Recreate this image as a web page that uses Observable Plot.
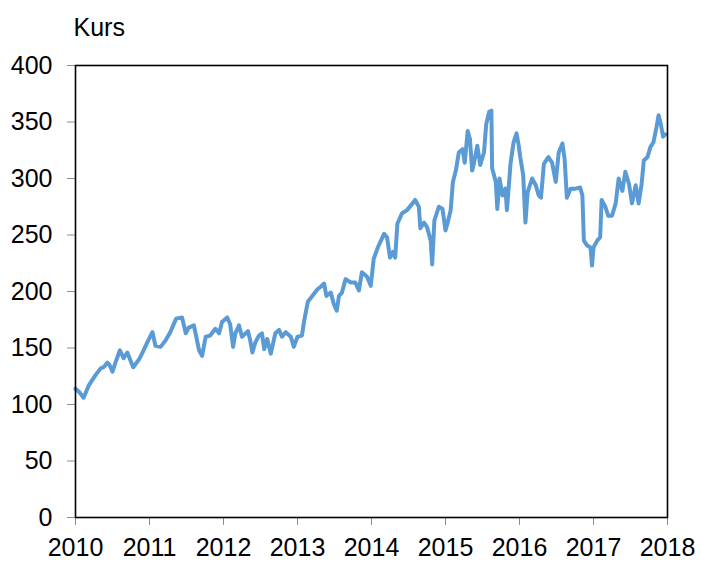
<!DOCTYPE html>
<html>
<head>
<meta charset="utf-8">
<script src="https://cdn.jsdelivr.net/npm/d3@7"></script>
<script src="https://cdn.jsdelivr.net/npm/@observablehq/plot@0.6"></script>
<style>
  html, body { margin: 0; padding: 0; background: #fff; }
</style>
</head>
<body>
<div id="chart"></div>
<script>
const title = "Kurs";
const yearTicks = [2010, 2011, 2012, 2013, 2014, 2015, 2016, 2017, 2018];
const valueTicks = [0, 50, 100, 150, 200, 250, 300, 350, 400];

// time as decimal years
const t = [
  2010.00, 2010.05, 2010.11, 2010.18, 2010.27, 2010.34, 2010.38, 2010.43, 2010.46, 2010.50,
  2010.54, 2010.60, 2010.65, 2010.70, 2010.78, 2010.86, 2010.92, 2010.97, 2011.04, 2011.08,
  2011.15, 2011.22, 2011.28, 2011.36, 2011.44, 2011.49, 2011.53, 2011.60, 2011.67, 2011.71,
  2011.76, 2011.82, 2011.89, 2011.94, 2011.98, 2012.05, 2012.09, 2012.13, 2012.16, 2012.21,
  2012.25, 2012.30, 2012.33, 2012.36, 2012.39, 2012.43, 2012.48, 2012.52, 2012.55, 2012.59,
  2012.64, 2012.70, 2012.75, 2012.79, 2012.84, 2012.91, 2012.95, 2013.00, 2013.06, 2013.09,
  2013.14, 2013.20, 2013.27, 2013.31, 2013.36, 2013.39, 2013.45, 2013.49, 2013.53, 2013.56,
  2013.60, 2013.65, 2013.72, 2013.78, 2013.83, 2013.87, 2013.94, 2013.99, 2014.03, 2014.08,
  2014.12, 2014.17, 2014.21, 2014.25, 2014.29, 2014.32, 2014.35, 2014.41, 2014.48, 2014.53,
  2014.59, 2014.64, 2014.66, 2014.71, 2014.75, 2014.80, 2014.82, 2014.85, 2014.91, 2014.96,
  2015.00, 2015.03, 2015.07, 2015.10, 2015.14, 2015.18, 2015.23, 2015.26, 2015.30, 2015.33,
  2015.36, 2015.38, 2015.43, 2015.47, 2015.52, 2015.55, 2015.59, 2015.62, 2015.63, 2015.68,
  2015.70, 2015.73, 2015.77, 2015.81, 2015.83, 2015.88, 2015.92, 2015.96, 2015.99, 2016.01,
  2016.05, 2016.08, 2016.11, 2016.17, 2016.22, 2016.26, 2016.29, 2016.33, 2016.39, 2016.44,
  2016.49, 2016.53, 2016.58, 2016.61, 2016.64, 2016.69, 2016.76, 2016.82, 2016.85, 2016.87,
  2016.91, 2016.96, 2016.98, 2017.00, 2017.05, 2017.09, 2017.11, 2017.16, 2017.20, 2017.25,
  2017.30, 2017.34, 2017.39, 2017.43, 2017.48, 2017.52, 2017.57, 2017.61, 2017.65, 2017.68,
  2017.73, 2017.77, 2017.81, 2017.85, 2017.88, 2017.91, 2017.94, 2017.97
];

const kurs = [
  114, 111, 106, 117, 126, 132, 133, 137, 135, 129,
  137, 148, 141, 146, 133, 140, 148, 155, 164, 152,
  151, 157, 164, 176, 177, 163, 168, 170, 148, 143,
  160, 161, 167, 163, 173, 177, 171, 151, 163, 170,
  160, 163, 165, 157, 146, 155, 161, 163, 149, 158,
  145, 163, 166, 160, 164, 160, 151, 160, 161, 174,
  191, 196, 202, 204, 207, 196, 199, 189, 183, 196,
  199, 211, 208, 208, 201, 217, 213, 205, 229, 238,
  244, 251, 248, 230, 235, 230, 260, 269, 272, 276,
  281, 275, 256, 261, 257, 245, 224, 263, 275, 273,
  254, 261, 272, 297, 307, 323, 326, 314, 342, 335,
  307, 312, 329, 312, 323, 348, 359, 360, 309, 297,
  273, 300, 285, 291, 272, 314, 332, 340, 329, 319,
  303, 261, 288, 300, 294, 285, 283, 313, 319, 314,
  297, 323, 331, 317, 283, 291, 291, 292, 285, 245,
  241, 239, 223, 239, 245, 248, 281, 275, 267, 267,
  278, 300, 289, 306, 295, 278, 294, 278, 295, 316,
  319, 328, 332, 345, 356, 348, 337, 339
];

const data = t.map((d, i) => ({t: d, v: kurs[i]}));

const chart = Plot.plot({
  width: 701,
  height: 561,
  marginLeft: 75,
  marginRight: 34,
  marginTop: 65,
  marginBottom: 44,
  style: {fontFamily: "'Liberation Sans', Arial, sans-serif", fontSize: "25px", color: "#000", background: "#fff"},
  x: {domain: [2010, 2018], type: "linear"},
  y: {domain: [0, 400]},
  marks: [
    Plot.axisY({ticks: valueTicks, tickSize: 8, tickPadding: 15, stroke: "#8c8c8c", fill: "#000", label: null}),
    Plot.axisX({ticks: yearTicks, tickSize: 8, tickPadding: 13, tickFormat: d3.format("d"), stroke: "#8c8c8c", fill: "#000", label: null}),
    Plot.line(data, {x: "t", y: "v", stroke: "#5B9BD5", strokeWidth: 4, strokeLinejoin: "round", strokeLinecap: "round"}),
    Plot.frame({stroke: "#000", strokeWidth: 1.6}),
    Plot.text([title], {frameAnchor: "top-left", text: d => d, dx: -2, dy: -30, lineAnchor: "bottom", textAnchor: "start", fill: "#000", fontSize: 25})
  ]
});

document.getElementById("chart").appendChild(chart);
</script>
</body>
</html>
